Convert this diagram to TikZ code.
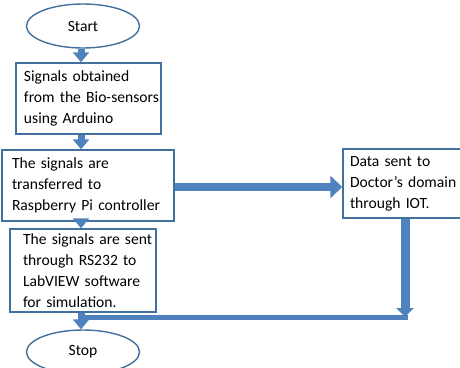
\documentclass[tikz,border=0pt]{standalone}
\usepackage{fontspec}
\setmainfont{Carlito}
\usetikzlibrary{arrows.meta,shapes.geometric}
\definecolor{boxblue}{RGB}{65,113,156}
\definecolor{arrowblue}{RGB}{79,129,189}
\tikzset{
  term/.style={ellipse,draw=boxblue,line width=1.4pt,fill=white,minimum width=113pt,minimum height=44pt,inner sep=0pt},
  stepbox/.style={rectangle,draw=boxblue,line width=1.4pt,fill=white,align=left,inner sep=0pt,anchor=center},
  textindent/.style={execute at begin node={\leftskip=#1\relax},execute at end node={\par}},
  flow/.style={draw=arrowblue,line width=7pt,-{Triangle[length=10pt,width=16pt]}},
  bigflow/.style={draw=arrowblue,line width=8pt,-{Triangle[length=12pt,width=22pt]}},
  retline/.style={draw=arrowblue,line width=5pt,line cap=rect}
}
\begin{document}
\begin{tikzpicture}[x=1pt,y=-1pt,font=\fontsize{15.6pt}{21pt}\selectfont]
  \useasboundingbox (0,0) rectangle (460,367);
  \begin{scope}
  \clip (0,0) rectangle (460,367);
  \coordinate (spine) at (81,0);
  \node[term] (start) at (83,26) {Start};
  \node[stepbox,textindent=8pt,minimum height=71pt,text width=145pt] (box1) at (88.5,98.5)
    {Signals obtained\\from the Bio-sensors\\using Arduino};
  \node[stepbox,textindent=10pt,minimum height=71pt,text width=172pt] (box2) at (88,185.5)
    {The signals are\\transferred to\\Raspberry Pi controller};
  \node[stepbox,textindent=13pt,minimum height=83pt,text width=146pt] (box3) at (83,270.5)
    {The signals are sent\\through RS232 to\\LabVIEW software\\for simulation.};
  \node[term] (stop) at (83,352) {Stop};
  \node[stepbox,textindent=7pt,minimum height=69pt,text width=119pt] (data) at (402.5,183.5)
    {Data sent to\\Doctor’s domain\\through IOT.};
  \coordinate (ret) at (405,317);

  % main chain
  \draw[flow] (start.south -| spine) -- (box1.north -| spine);
  \draw[flow] (box1.south -| spine) -- (box2.north -| spine);
  \draw[flow] (box2.south -| spine) -- (box3.north -| spine);
  \draw[flow] (box3.south -| spine) -- (stop.north -| spine);

  % branch to the doctor
  \draw[bigflow] (box2.east |- 0,187) -- (data.west |- 0,187);
  \draw[retline] (ret) -- (ret -| spine);
  \draw[bigflow,line width=9pt,-{Triangle[length=9pt,width=17pt]}] (data.south -| ret) -- (ret);
  \end{scope}
\end{tikzpicture}
\end{document}
